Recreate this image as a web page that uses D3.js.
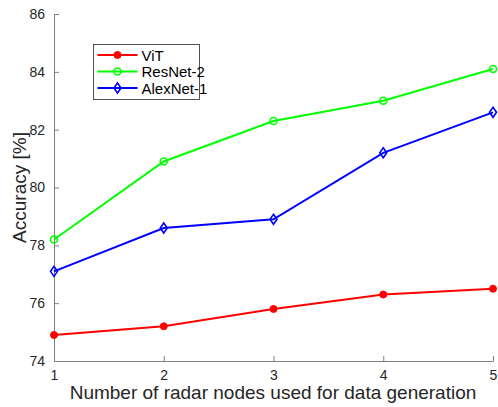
<!DOCTYPE html>
<html>
<head>
<meta charset="utf-8">
<script src="https://cdn.jsdelivr.net/npm/d3@7"></script>
<style>
  body { margin: 0; background: #fff; }
  text { font-family: "Liberation Sans", Arial, sans-serif; }
</style>
</head>
<body>
<div id="chart"></div>
<script>
// data
var nodes = [1, 2, 3, 4, 5];
var vit = [74.9, 75.2, 75.8, 76.3, 76.5];
var resnet2 = [78.2, 80.9, 82.3, 83.0, 84.1];
var alexnet1 = [77.1, 78.6, 78.9, 81.2, 82.6];
var yTicks = [74, 76, 78, 80, 82, 84, 86];

var width = 498, height = 407;
var margin = { top: 14, left: 54, right: 5, bottom: 46 };

var svg = d3.select("#chart").append("svg")
    .attr("width", width)
    .attr("height", height);

var x = d3.scaleLinear().domain([1, 5]).range([margin.left, width - margin.right]);
var y = d3.scaleLinear().domain([74, 86]).range([height - margin.bottom, margin.top]);

var axisColor = "#808080";

// y axis, ticks inward like matlab
var yAxis = svg.append("g")
    .attr("transform", "translate(" + margin.left + ",0)")
    .call(d3.axisLeft(y).tickValues(yTicks).tickSizeInner(-5).tickSizeOuter(0).tickPadding(9));

var xAxis = svg.append("g")
    .attr("transform", "translate(0," + (height - margin.bottom) + ")")
    .call(d3.axisBottom(x).tickValues(nodes).tickFormat(d3.format("d")).tickSizeInner(-5).tickSizeOuter(0).tickPadding(9));

[xAxis, yAxis].forEach(function(a) {
  a.select(".domain").style("stroke", axisColor).style("stroke-width", 1);
  a.selectAll(".tick line").style("stroke", axisColor);
  a.selectAll("text").style("fill", "#262626").style("font-size", "14px")
    .style("font-family", "Liberation Sans, Arial, sans-serif");
});

// axis labels
svg.append("text")
    .attr("x", 273)
    .attr("y", 399)
    .attr("text-anchor", "middle")
    .style("font-size", "19px")
    .style("fill", "#262626")
    .text("Number of radar nodes used for data generation");

svg.append("text")
    .attr("transform", "translate(26," + ((margin.top + height - margin.bottom) / 2) + ") rotate(-90)")
    .attr("text-anchor", "middle")
    .style("font-size", "19px")
    .style("fill", "#262626")
    .text("Accuracy [%]");

var series = [
  { name: "ViT", values: vit, color: "#ff0000", marker: "dot" },
  { name: "ResNet-2", values: resnet2, color: "#00ff00", marker: "circle" },
  { name: "AlexNet-1", values: alexnet1, color: "#0000ff", marker: "diamond" }
];

var line = d3.line()
    .x(function(d, i) { return x(nodes[i]); })
    .y(function(d) { return y(d); });

function drawMarker(g, type, color, cx, cy) {
  if (type === "dot") {
    g.append("circle").attr("cx", cx).attr("cy", cy).attr("r", 3.5)
      .style("fill", color).style("stroke", color);
  } else if (type === "circle") {
    g.append("circle").attr("cx", cx).attr("cy", cy).attr("r", 3.5)
      .style("fill", "none").style("stroke", color).style("stroke-width", 1.6);
  } else {
    g.append("path")
      .attr("d", "M" + cx + "," + (cy - 5) + "L" + (cx + 3.5) + "," + cy + "L" + cx + "," + (cy + 5) + "L" + (cx - 3.5) + "," + cy + "Z")
      .style("fill", "none").style("stroke", color).style("stroke-width", 1.6);
  }
}

series.forEach(function(s) {
  var g = svg.append("g");
  g.append("path")
    .datum(s.values)
    .attr("d", line)
    .style("fill", "none")
    .style("stroke", s.color)
    .style("stroke-width", 2);
  s.values.forEach(function(v, i) {
    drawMarker(g, s.marker, s.color, x(nodes[i]), y(v));
  });
});

// legend
var legend = svg.append("g").attr("transform", "translate(93.5,44.5)");
legend.append("rect")
    .attr("width", 106).attr("height", 55)
    .style("fill", "#fff").style("stroke", "#262626").style("stroke-width", 0.8);

series.forEach(function(s, i) {
  var ly = 10.5 + i * 16.5;
  var row = legend.append("g");
  row.append("line").attr("x1", 4).attr("x2", 44).attr("y1", ly).attr("y2", ly)
    .style("stroke", s.color).style("stroke-width", 2);
  drawMarker(row, s.marker, s.color, 24, ly);
  row.append("text").attr("x", 48).attr("y", ly + 5.5)
    .style("font-size", "15px").style("fill", "#000").text(s.name);
});
</script>
</body>
</html>
